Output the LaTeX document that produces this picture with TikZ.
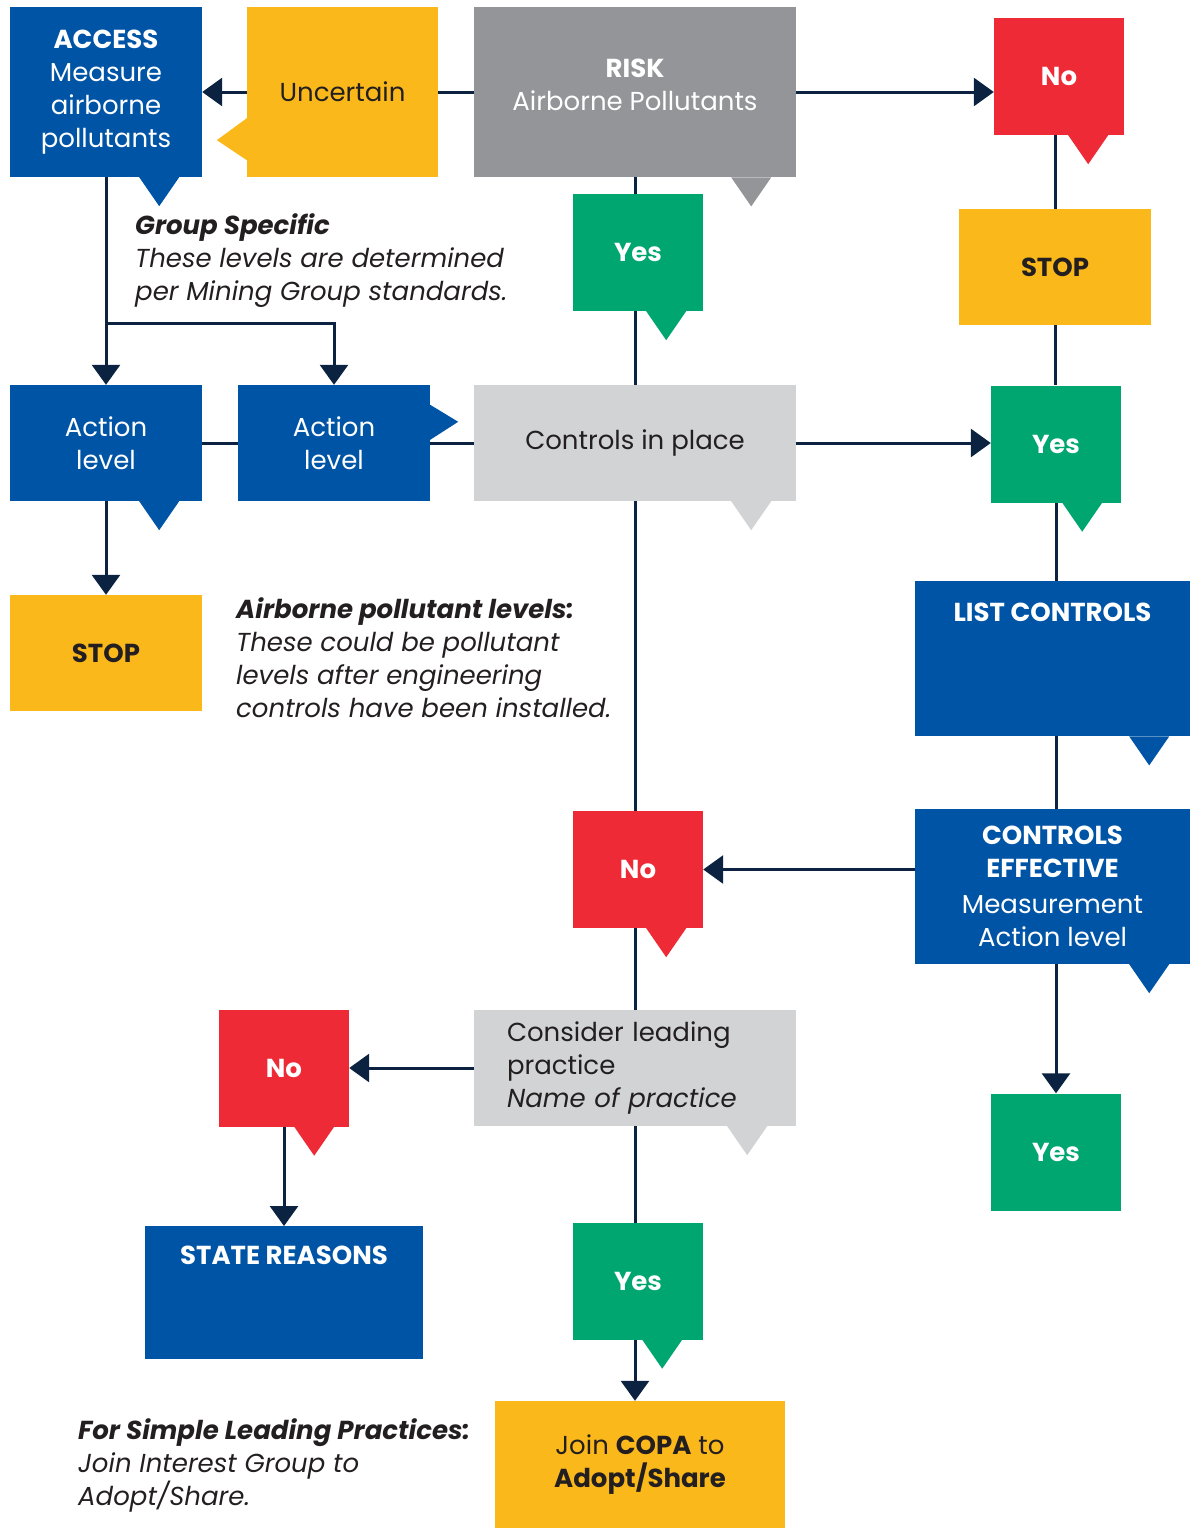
\documentclass[tikz,border=0pt]{standalone}
\usepackage{fontspec}
\setmainfont{Poppins}
\usetikzlibrary{arrows.meta}

\definecolor{cblue}{HTML}{0054A6}
\definecolor{cyellow}{HTML}{FBB81B}
\definecolor{cgray}{HTML}{939598}
\definecolor{clight}{HTML}{D1D3D4}
\definecolor{cred}{HTML}{EE2A37}
\definecolor{cgreen}{HTML}{00A66F}
\definecolor{cnavy}{HTML}{0B2341}
\definecolor{ctext}{HTML}{231F20}

\pgfdeclarelayer{back}
\pgfsetlayers{back,main}

% speech tail under a box: node, colour, distance of the tip from the right edge
\newcommand{\tail}[3]{%
  \fill[#2] ([xshift=-#3pt-20pt]#1.south east) -- ([xshift=-#3pt+20pt]#1.south east)
    -- ([xshift=-#3pt,yshift=-29pt]#1.south east) -- cycle;}

\tikzset{
  box/.style={rectangle, inner sep=0pt, align=center, font=\fontsize{26}{33}\selectfont},
  bluebox/.style={box, fill=cblue, text=white},
  yellowbox/.style={box, fill=cyellow, text=ctext},
  graybox/.style={box, fill=cgray, text=white},
  lightbox/.style={box, fill=clight, text=ctext},
  redbox/.style={box, fill=cred, text=white},
  greenbox/.style={box, fill=cgreen, text=white},
  small/.style={minimum width=130, minimum height=117},
  side/.style={minimum width=192, minimum height=116},
  wide/.style={minimum width=322, minimum height=116},
  note/.style={align=left, inner sep=0pt, text=ctext, font=\itshape\fontsize{26}{33}\selectfont},
  link/.style={draw=cnavy, line width=3pt},
  flow/.style={link, -{Triangle[length=20pt,width=28pt]}}
}

\begin{document}
\begin{tikzpicture}[x=1pt,y=-1pt]
\useasboundingbox (0,0) rectangle (1190,1528);

% top row
\node[bluebox, minimum width=192, minimum height=170] (access) at (106,92)
  {\textbf{ACCESS}\\Measure\\airborne\\pollutants};
\node[yellowbox, minimum width=191, minimum height=170] (uncertain) at (342.5,92) {Uncertain};
\node[graybox, minimum width=322, anchor=north, text height=103, text depth=67] (risk) at (635,7)
  {\textbf{RISK}\\Airborne Pollutants};
\node[redbox, small] (noA) at (1059,76.5) {\textbf{No}};

% second row
\node[greenbox, small] (yesA) at (638,252.5) {\textbf{Yes}};
\node[yellowbox, side] (stopA) at (1055,267) {\textbf{STOP}};
\node[note, anchor=north west] (groupnote) at (135,213)
  {\textbf{Group Specific}\\These levels are determined\\per Mining Group standards.};

% action levels and controls
\coordinate (branch) at (0,323);
\node[bluebox, side] (actA) at (106,443) {Action\\level};
\node[bluebox, side] (actB) at (334,443) {Action\\level};
\node[lightbox, wide] (controls) at (635,443) {Controls in place};
\node[greenbox, small] (yesB) at (1056,444) {\textbf{Yes}};
\node[yellowbox, side] (stopB) at (106,653) {\textbf{STOP}};
\node[note, anchor=north west] (levelnote) at (236,597)
  {\textbf{Airborne pollutant levels:}\\These could be pollutant\\levels after engineering\\controls have been installed.};

% right column
\node[bluebox, minimum width=275, anchor=north, text height=40, text depth=115] (list) at (1052.5,581)
  {\textbf{LIST CONTROLS}};
\node[bluebox, minimum width=275, minimum height=155] (effective) at (1052.5,886.5)
  {\textbf{CONTROLS}\\\textbf{EFFECTIVE}\\[3pt]Measurement\\Action level};
\node[greenbox, small] (yesC) at (1056,1152) {\textbf{Yes}};

% lower part
\node[redbox, small] (noB) at (638,869.5) {\textbf{No}};
\node[lightbox, wide, text width=256, align=left] (consider) at (635,1068)
  {Consider leading\\practice\\\textit{Name of practice}};
\node[redbox, small] (noC) at (284,1068) {\textbf{No}};
\node[bluebox, minimum width=278, anchor=north, text height=38, text depth=95] (reasons) at (284,1226)
  {\textbf{STATE REASONS}};
\node[greenbox, small] (yesD) at (638,1281) {\textbf{Yes}};
\node[yellowbox, minimum width=290, minimum height=127] (copa) at (640,1464.5)
  {Join \textbf{COPA} to\\\textbf{Adopt/Share}};
\node[note, anchor=north west] (simplenote) at (78,1418)
  {\textbf{For Simple Leading Practices:}\\Join Interest Group to\\Adopt/Share.};

% tails
\foreach \n/\c/\d in {access/cblue/43, risk/cgray/45, noA/cred/36, yesA/cgreen/37,
    actA/cblue/43, controls/clight/45, yesB/cgreen/39, list/cblue/41, effective/cblue/41,
    noB/cred/37, consider/clight/49, noC/cred/35, yesD/cgreen/41}
  \tail{\n}{\c}{\d};
\fill[cyellow] ([yshift=59pt]uncertain.south west) -- ([yshift=17pt]uncertain.south west)
  -- ([xshift=-30pt,yshift=37pt]uncertain.south west) -- cycle;
\fill[cblue] ([yshift=-20pt]actB.north east) -- ([yshift=-55pt]actB.north east)
  -- ([xshift=28pt,yshift=-37pt]actB.north east) -- cycle;

% connectors
\begin{pgfonlayer}{back}
\draw[flow] (risk.west |- access.east) -- (access.east);
\draw[flow] (risk.east |- access.east) -- (noA.west |- access.east);
\draw[link] (risk.south) -- (controls.north);
\draw[link] (noA.south -| stopA) -- (stopA |- yesB.north);
\draw[flow] (access.south) -- (actA.north);
\draw[flow] (access.south |- branch) -| (actB.north);
\draw[link] (actA.east) -- (controls.west);
\draw[flow] (controls.east) -- (controls.east -| yesB.west);
\draw[flow] (actA.south) -- (stopB.north);
\draw[flow] (yesB.south) -- (yesB.south |- yesC.north);
\draw[link] (controls.south) -- (consider.north);
\draw[flow] (effective.west |- noB.east) -- (noB.east);
\draw[flow] (consider.west) -- (noC.east);
\draw[flow] (noC.south) -- (reasons.north);
\draw[flow] (consider.south) -- (consider.south |- copa.north);
\end{pgfonlayer}
\end{tikzpicture}
\end{document}
